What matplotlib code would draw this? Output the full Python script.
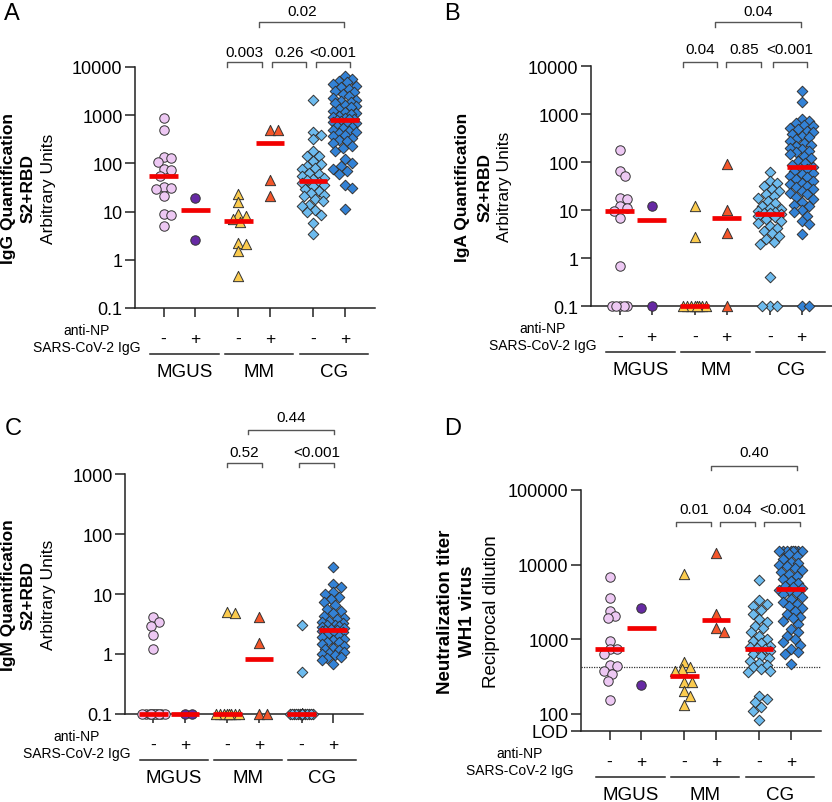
import numpy as np
import matplotlib
matplotlib.use("Agg")
import matplotlib.pyplot as plt
from matplotlib.transforms import blended_transform_factory
from matplotlib.ticker import NullLocator, FixedLocator, FixedFormatter

plt.rcParams['font.family'] = ['Liberation Sans', 'DejaVu Sans']

# groups: MGUS -, MGUS +, MM -, MM +, CG -, CG +
group_names = ["MGUS", "MM", "CG"]
np_signs = ["-", "+", "-", "+", "-", "+"]
positions = [0, 1, 2.35, 3.35, 4.7, 5.7]

# ---- A: IgG ----
igg_mgus_neg = [890, 500, 135, 130, 105, 75, 72, 55, 32, 31, 30, 21, 9, 8.5, 5.1]
igg_mgus_pos = [18.7, 2.6]
igg_mm_neg = [23, 16, 9, 8, 7, 6, 2.2, 2.1, 1.5, 0.47]
igg_mm_pos = [490, 490, 45, 21]
igg_cg_neg = [2090, 450, 380, 316, 181, 142, 140, 112, 95, 88, 80, 75, 62, 59, 55,
              50, 48, 45, 42, 40, 36, 34, 30, 27, 24.5, 22, 21, 18, 16.4, 14, 13,
              11, 10, 8.7, 5.8, 3.4]
igg_cg_pos = [6600, 5600, 5200, 4800, 4400, 4100, 3800, 3500, 3200, 3000, 2800,
              2530, 2300, 2100, 2000, 1900, 1750, 1600, 1560, 1450, 1350, 1230,
              1150, 1100, 1050, 970, 930, 880, 850, 820, 800, 760, 720, 690, 650,
              600, 580, 540, 500, 472, 450, 420, 390, 371, 340, 310, 292, 260,
              230, 212, 180, 121, 100, 88, 75, 69, 60, 35, 31, 11.5]

# ---- B: IgA ----
iga_mgus_neg = [178, 66, 52, 17.5, 17, 12.3, 11, 9.5, 6.7, 0.69, 0.1, 0.1, 0.1, 0.1, 0.1]
iga_mgus_pos = [12.4, 0.1]
iga_mm_neg = [12, 2.8, 0.1, 0.1, 0.1, 0.1, 0.1, 0.1, 0.1, 0.1]
iga_mm_pos = [89, 10.2, 3.3, 0.1]
iga_cg_neg = [61, 41, 36, 32, 28, 25, 22, 20, 18, 15.6, 14, 12.3, 11, 10.5, 9.7,
              9.2, 8.8, 8.5, 8.3, 7.6, 7.0, 6.5, 6.0, 5.4, 4.7, 4.2, 3.7, 3.3, 2.9,
              2.5, 2.2, 1.96, 0.40, 0.1, 0.1, 0.1]
iga_cg_pos = [2970, 1750, 800, 727, 650, 600, 571, 520, 480, 450, 420, 390, 353,
              330, 300, 278, 250, 230, 219, 200, 185, 172, 160, 150, 135, 120, 107,
              95, 85, 80, 74, 70, 65, 60, 56, 52, 48, 44, 40, 37, 35, 32, 30, 27,
              25, 23, 21.5, 19, 17, 15, 13, 12.3, 10, 9, 7.5, 6, 5, 3.1, 0.1, 0.1]

# ---- C: IgM ----
igm_mgus_neg = [4.1, 3.4, 2.9, 2.1, 1.2] + [0.1] * 10
igm_mgus_pos = [0.1, 0.1]
igm_mm_neg = [5.0, 4.8] + [0.1] * 8
igm_mm_pos = [4.1, 1.55, 0.1, 0.1]
igm_cg_neg = [3.1, 0.5] + [0.1] * 34
igm_cg_pos = [28.6, 14.7, 12.9, 11, 10, 9, 8.2, 7.3, 6.5, 5.6, 5.2, 4.8, 4.35, 4.0,
              3.8, 3.6, 3.4, 3.3, 3.1, 3.0, 2.9, 2.8, 2.7, 2.6, 2.55, 2.5, 2.4, 2.3,
              2.2, 2.1, 2.0, 1.9, 1.8, 1.7, 1.6, 1.56, 1.45, 1.35, 1.25, 1.21, 1.15,
              1.1, 1.05, 1.0, 0.95, 0.9, 0.85, 0.78, 0.68]

# ---- D: neutralization ----
nt_mgus_neg = [6800, 3550, 2400, 2050, 1900, 960, 740, 730, 630, 450, 440, 375, 345, 280, 155]
nt_mgus_pos = [2600, 245]
nt_mm_neg = [7500, 500, 430, 400, 380, 270, 265, 200, 175, 132]
nt_mm_pos = [14200, 2180, 1400, 1240]
nt_cg_neg = [6240, 3360, 3000, 2820, 2500, 2200, 1870, 1700, 1520, 1400, 1240, 1100,
             1010, 950, 880, 820, 780, 760, 740, 700, 637, 600, 560, 518, 480, 450,
             422, 400, 380, 361, 176, 160, 143, 125, 111, 83]
nt_cg_pos = [15000] * 8 + [14000, 13000, 12000, 11000, 10500, 10000, 9500, 9000, 8500,
             8000, 7500, 7000, 6500, 6000, 5600, 5200, 5000, 4800, 4600, 4500, 4200,
             4000, 3700, 3470, 3200, 3000, 2820, 2600, 2400, 2180, 2000, 1900, 1780,
             1600, 1375, 1250, 1120, 1000, 912, 850, 743, 680, 637, 470]
nt_lod = 59
nt_threshold = 430

colors = ["#EDC8F3", "#6629A3", "#FBCB4E", "#F4562A", "#6DBBEE", "#3382D6"]
markers = ["o", "o", "^", "^", "D", "D"]
msizes = [6.8, 6.8, 7.4, 7.4, 5.4, 5.4]

W, H = 832, 803
fig = plt.figure(figsize=(W / 100, H / 100), dpi=100)


def px_axes(left, top, right, bottom):
    return fig.add_axes([left / W, 1 - bottom / H, (right - left) / W, (bottom - top) / H])


def swarm(ax, x0, vals, diam, half, sep=0.75):
    vals = np.asarray(vals, float)
    ys = ax.transData.transform(np.column_stack([np.full(len(vals), x0), vals]))[:, 1]
    step = diam * 0.2
    cands = [0.0]
    k = 1
    while k * step <= half:
        cands += [k * step, -k * step]
        k += 1
    placed = []
    offs = np.zeros(len(vals))
    for i in np.argsort(-vals, kind="stable"):
        best, best_c, best_d = None, 0.0, -1
        for c in cands:
            d = min([np.hypot(c - px, ys[i] - py) for px, py in placed], default=np.inf)
            if d >= diam * sep:
                best = c
                break
            if d > best_d:
                best_d, best_c = d, c
        if best is None:
            best = best_c
        placed.append((best, ys[i]))
        offs[i] = best
    ppu = ax.transData.transform((1, 1))[0] - ax.transData.transform((0, 1))[0]
    return offs / ppu


def panel(ax, groups, ylim, ticks, ticklabels, ylabels, lab_off, np_x, brackets):
    ax.set_yscale("log")
    ax.set_xlim(-0.9, 6.65)
    ax.set_ylim(*ylim)
    for s in ["top", "right"]:
        ax.spines[s].set_visible(False)
    for s in ["left", "bottom"]:
        ax.spines[s].set_linewidth(1.1)
        ax.spines[s].set_color("#222222")
    ax.yaxis.set_major_locator(FixedLocator(ticks))
    ax.yaxis.set_major_formatter(FixedFormatter(ticklabels))
    ax.yaxis.set_minor_locator(NullLocator())
    ax.set_xticks(positions)
    ax.set_xticklabels([])
    ax.tick_params(axis="y", length=7, width=1.1, labelsize=13, pad=2, color="#222222")
    ax.tick_params(axis="x", length=6.5, width=1.1, color="#222222")

    for i, vals in enumerate(groups):
        x = positions[i]
        offs = swarm(ax, x, vals, 9.5, 12)
        ax.scatter(x + offs, vals, s=msizes[i] ** 2, marker=markers[i], c=colors[i],
                   edgecolors="#333333", linewidths=0.7, zorder=3, clip_on=False)
        med = np.median(vals)
        ax.hlines(med, x - 0.45, x + 0.45, color="#F20000", lw=3.4, zorder=4,
                  clip_on=False)

    tr = blended_transform_factory(ax.transData, ax.transAxes)
    for x, s in zip(positions, np_signs):
        ax.text(x, -0.127, s, transform=tr, ha="center", va="center", fontsize=12.5)
    ax.text(np_x, -0.127, "anti-NP\nSARS-CoV-2 IgG", transform=tr, ha="right",
            va="center", multialignment="center", fontsize=10, linespacing=1.3)
    for g, name in enumerate(group_names):
        x0 = positions[2 * g] - 0.42
        x1 = positions[2 * g + 1] + 0.73
        ax.plot([x0, x1], [-0.19, -0.19], transform=tr, color="#222222", lw=1.1,
                clip_on=False)
        ax.text((x0 + x1) / 2, -0.265, name, transform=tr, ha="center", va="center",
                fontsize=13.5)

    for x0, x1, yb, yt, ytxt, lab in brackets:
        ax.plot([x0, x0, x1, x1], [yt, yb, yb, yt], transform=tr, color="#555555",
                lw=1.0, clip_on=False)
        ax.text((x0 + x1) / 2, ytxt, lab, transform=tr, ha="center", va="center",
                fontsize=11)

    for (txt, bold, fs), dx in zip(ylabels, lab_off):
        ax.annotate(txt, xy=(0, 0.5), xycoords="axes fraction", xytext=(-dx * 0.72, 0),
                    textcoords="offset points", rotation=90, ha="center", va="center",
                    fontsize=fs, fontweight="bold" if bold else "normal")


decades = [0.1, 1, 10, 100, 1000, 10000]
dec_labels = ["0.1", "1", "10", "100", "1000", "10000"]

axA = px_axes(135, 68, 375, 309)
panel(axA, [igg_mgus_neg, igg_mgus_pos, igg_mm_neg, igg_mm_pos, igg_cg_neg, igg_cg_pos],
      (0.1, 10000), decades, dec_labels,
      [("IgG Quantification", True, 12.5), ("S2+RBD", True, 12.5),
       ("Arbitrary Units", False, 12.5)], [127, 107, 87], -0.72,
      [(2.0, 3.09, 1.021, 1.0, 1.062, "0.003"),
       (3.41, 4.47, 1.021, 1.0, 1.062, "0.26"),
       (4.78, 5.875, 1.021, 1.0, 1.062, "<0.001"),
       (3.0, 5.69, 1.187, 1.166, 1.232, "0.02")])

axB = px_axes(591, 67, 832, 307)
panel(axB, [iga_mgus_neg, iga_mgus_pos, iga_mm_neg, iga_mm_pos, iga_cg_neg, iga_cg_pos],
      (0.1, 10000), decades, dec_labels,
      [("IgA Quantification", True, 12.5), ("S2+RBD", True, 12.5),
       ("Arbitrary Units", False, 12.5)], [128, 106, 86], -0.72,
      [(1.98, 3.06, 1.017, 0.996, 1.071, "0.04"),
       (3.34, 4.44, 1.017, 0.996, 1.071, "0.85"),
       (4.79, 5.86, 1.017, 0.996, 1.071, "<0.001"),
       (2.99, 5.67, 1.183, 1.162, 1.229, "0.04")])

axC = px_axes(125, 475, 363, 715)
panel(axC, [igm_mgus_neg, igm_mgus_pos, igm_mm_neg, igm_mm_pos, igm_cg_neg, igm_cg_pos],
      (0.1, 1000), decades[:5], dec_labels[:5],
      [("IgM Quantification", True, 12.5), ("S2+RBD", True, 12.5),
       ("Arbitrary Units", False, 12.5)], [117, 97, 77], -0.73,
      [(2.34, 3.45, 1.046, 1.029, 1.092, "0.52"),
       (4.63, 5.73, 1.046, 1.029, 1.092, "<0.001"),
       (3.0, 5.73, 1.183, 1.167, 1.2375, "0.44")])

axD = px_axes(581, 491, 821, 732)
panel(axD, [nt_mgus_neg, nt_mgus_pos, nt_mm_neg, nt_mm_pos, nt_cg_neg, nt_cg_pos],
      (nt_lod, 100000), [nt_lod, 100, 1000, 10000, 100000],
      ["LOD", "100", "1000", "10000", "100000"],
      [("Neutralization titer", True, 13.5), ("WH1 virus", True, 13.5),
       ("Reciprocal dilution", False, 13.5)], [136, 113, 89], -1.14,
      [(2.09, 3.2, 0.867, 0.851, 0.921, "0.01"),
       (3.48, 4.56, 0.867, 0.851, 0.921, "0.04"),
       (4.87, 6.0, 0.867, 0.851, 0.921, "<0.001"),
       (3.2, 5.89, 1.10, 1.083, 1.158, "0.40")])
axD.axhline(nt_threshold, color="#333333", lw=0.9, ls=(0, (1, 1)), zorder=2)

for lab, x, y in [("A", 12, 14), ("B", 452, 14), ("C", 13, 429), ("D", 453, 429)]:
    fig.text(x / W, 1 - y / H, lab, ha="center", va="center", fontsize=17)

fig.savefig("out.png", dpi=100)
